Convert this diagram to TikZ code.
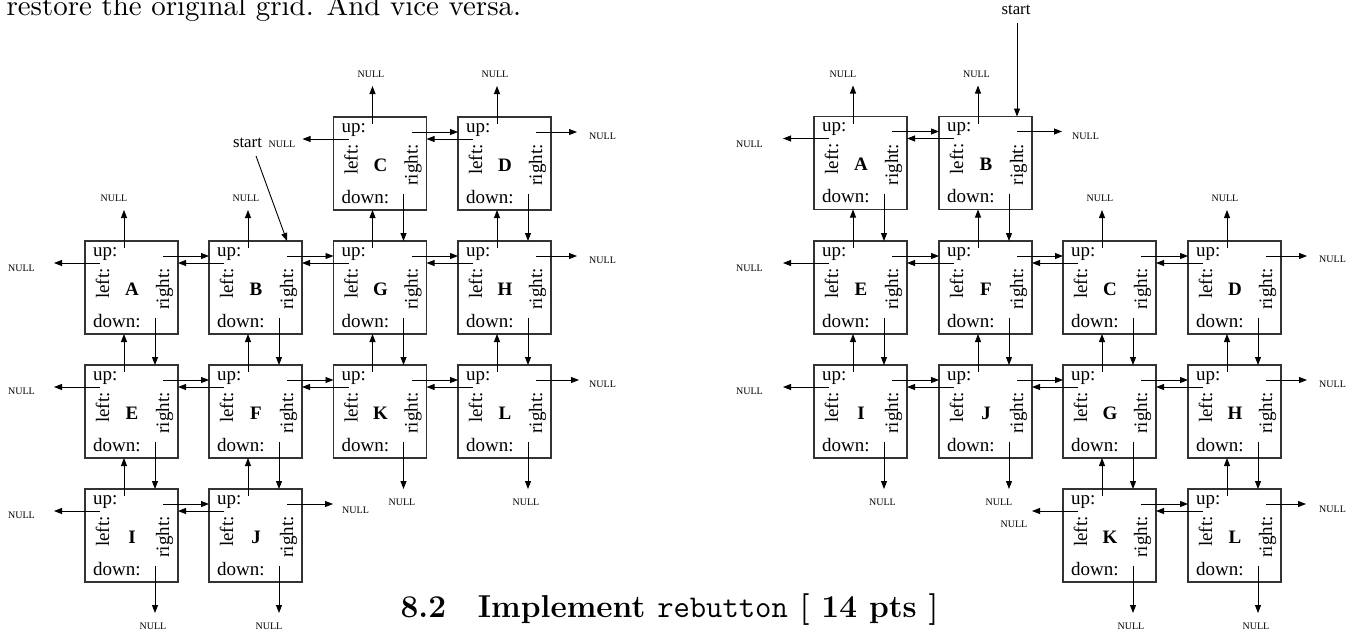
\documentclass[tikz,border=0pt]{standalone}
\usepackage{fontspec}
\newfontfamily\tms{Liberation Serif}
\usetikzlibrary{arrows.meta,calc}
\tikzset{
  boxst/.style={draw=black!80, line width=1.2pt, minimum width=93pt, minimum height=93pt, inner sep=0pt, outer sep=0pt, anchor=north west},
  lbl/.style={font=\tms\fontsize{19}{22}\selectfont, inner sep=0pt},
  ltr/.style={font=\tms\bfseries\fontsize{19}{22}\selectfont, inner sep=0pt, anchor=base},
  nul/.style={font=\tms\fontsize{10}{12}\selectfont, inner sep=0pt},
  arr/.style={-{Triangle[length=8pt,width=6pt]}, line width=0.9pt},
  stl/.style={font=\tms\fontsize{16.8}{20}\selectfont, inner sep=0pt},
}
% box: name, x0, y0, letter
\newcommand\gbox[4]{%
  \node[boxst] (#1) at (#2,#3) {};
  \node[lbl, anchor=base west] (#1-tu) at (#2+8,#3+15) {up:};
  \node[lbl, anchor=base west] (#1-td) at (#2+8,#3+86) {down:};
  \node[lbl, anchor=base, rotate=90] (#1-tl) at (#2+24,#3+42.5) {left:};
  \node[lbl, anchor=base, rotate=90] (#1-tr) at (#2+84,#3+48) {right:};
  \node[ltr] (#1-tn) at (#2+47,#3+54) {#4};
  \coordinate (#1-u) at (#2+39,#3+7);
  \coordinate (#1-d) at (#2+70,#3+77);
  \coordinate (#1-r) at (#2+78,#3+15);
  \coordinate (#1-l) at (#2+15,#3+22);
}
\newcommand\rto[2]{\draw[arr] (#1-r) -- (#1-r -| #2.west);}
\newcommand\lto[2]{\draw[arr] (#1-l) -- (#1-l -| #2.east);}
\newcommand\uto[2]{\draw[arr] (#1-u) -- (#1-u |- #2.south);}
\newcommand\dto[2]{\draw[arr] (#1-d) -- (#1-d |- #2.north);}
\newcommand\unull[2]{\draw[arr] (#1-u) -- ++(0,-38) coordinate (#1-ut);
  \node[nul] (#1-un) at ($(#1-ut)+(#2,-11.5)$) {NULL};}
\newcommand\dnull[2]{\draw[arr] (#1-d) -- ++(0,47) coordinate (#1-dt);
  \node[nul] (#1-dn) at ($(#1-dt)+(#2,13.5)$) {NULL};}
\newcommand\lnull[3]{\draw[arr] (#1-l) -- ++(-46,0) coordinate (#1-lt);
  \node[nul, anchor=east] (#1-ln) at ($(#1-lt)+(#2,#3)$) {NULL};}
\newcommand\rnull[4]{\draw[arr] (#1-r) -- ++(#2,0) coordinate (#1-rt);
  \node[nul, anchor=west] (#1-rn) at ($(#1-rt)+(#3,#4)$) {NULL};}
\begin{document}
\begin{tikzpicture}[x=1pt,y=-1pt]
\useasboundingbox (0,0) rectangle (1355,635);
\clip (0,0) rectangle (1355,635);

% text lines
\node[anchor=base west, scale=2.64, inner sep=0pt] (body) at (6,15)
  {\fontsize{10.95}{13.6}\selectfont restore the original grid. And vice versa.};
\node[anchor=base west, scale=2.64, inner sep=0pt] (title) at (400,617.7)
  {\fontsize{12}{14.4}\selectfont\bfseries 8.2\hspace{1em}Implement {\mdseries\ttfamily rebutton} [ 14 pts ]};

% ---------------- left grid ----------------
\gbox{LC}{333.5}{117}{C}
\gbox{LD}{458}{117}{D}
\gbox{LA}{85}{241}{A}
\gbox{LB}{209}{241}{B}
\gbox{LG}{333.5}{241}{G}
\gbox{LH}{458}{241}{H}
\gbox{LE}{85}{365}{E}
\gbox{LF}{209}{365}{F}
\gbox{LK}{333.5}{365}{K}
\gbox{LL}{458}{365}{L}
\gbox{LI}{85}{489}{I}
\gbox{LJ}{209}{489}{J}

\unull{LC}{-1.5} \lnull{LC}{-7}{5} \rto{LC}{LD} \dto{LC}{LG}
\unull{LD}{-2} \lto{LD}{LC} \rnull{LD}{41}{12}{4.5} \dto{LD}{LH}
\unull{LA}{-10} \lnull{LA}{-19}{5.5} \rto{LA}{LB} \dto{LA}{LE}
\unull{LB}{-2} \lto{LB}{LA} \rto{LB}{LG} \dto{LB}{LF}
\uto{LG}{LC} \lto{LG}{LB} \rto{LG}{LH} \dto{LG}{LK}
\uto{LH}{LD} \lto{LH}{LG} \rnull{LH}{41}{12}{4.5} \dto{LH}{LL}
\uto{LE}{LA} \lnull{LE}{-19}{4.5} \rto{LE}{LF} \dto{LE}{LI}
\uto{LF}{LB} \lto{LF}{LE} \rto{LF}{LK} \dto{LF}{LJ}
\uto{LK}{LG} \lto{LK}{LF} \rto{LK}{LL} \dnull{LK}{-1.5}
\uto{LL}{LH} \lto{LL}{LK} \rnull{LL}{43}{10}{4} \dnull{LL}{-2}
\uto{LI}{LE} \lnull{LI}{-19}{4} \rto{LI}{LJ} \dnull{LI}{-2}
\uto{LJ}{LF} \lto{LJ}{LI} \rnull{LJ}{46}{9}{6} \dnull{LJ}{-10}

\node[stl] (st1) at (247.5,143) {start};
\coordinate (st1a) at (256,156);
\draw[arr] (st1a) -- (LB-r |- LB.north);

% ---------------- right grid ----------------
\gbox{RA}{814}{116.5}{A}
\gbox{RB}{939}{116.5}{B}
\gbox{RE}{814}{241}{E}
\gbox{RF}{939}{241}{F}
\gbox{RC}{1063}{241}{C}
\gbox{RD}{1188}{241}{D}
\gbox{RI}{814}{365}{I}
\gbox{RJ}{939}{365}{J}
\gbox{RG}{1063}{365}{G}
\gbox{RH}{1188}{365}{H}
\gbox{RK}{1063}{489}{K}
\gbox{RL}{1188}{489}{L}

\unull{RA}{-10} \lnull{RA}{-20}{5.5} \rto{RA}{RB} \dto{RA}{RE}
\unull{RB}{-1.5} \lto{RB}{RA} \rnull{RB}{45}{10}{5} \dto{RB}{RF}
\uto{RE}{RA} \lnull{RE}{-20}{5} \rto{RE}{RF} \dto{RE}{RI}
\uto{RF}{RB} \lto{RF}{RE} \rto{RF}{RC} \dto{RF}{RJ}
\unull{RC}{-2} \lto{RC}{RF} \rto{RC}{RD} \dto{RC}{RG}
\unull{RD}{-2} \lto{RD}{RC} \rnull{RD}{41}{12}{3.5} \dto{RD}{RH}
\uto{RI}{RE} \lnull{RI}{-20}{4.5} \rto{RI}{RJ} \dnull{RI}{-1.5}
\uto{RJ}{RF} \lto{RJ}{RI} \rto{RJ}{RG} \dnull{RJ}{-10}
\uto{RG}{RC} \lto{RG}{RJ} \rto{RG}{RH} \dto{RG}{RK}
\uto{RH}{RD} \lto{RH}{RG} \rnull{RH}{41}{12}{4} \dto{RH}{RL}
\uto{RK}{RG} \lnull{RK}{-4.5}{13} \rto{RK}{RL} \dnull{RK}{-2}
\uto{RL}{RH} \lto{RL}{RK} \rnull{RL}{40}{13}{5} \dnull{RL}{-2}

\node[stl] (st2) at (1016,10) {start};
\coordinate (st2a) at (1017,23);
\draw[arr] (st2a) -- (RB-r |- RB.north);
\end{tikzpicture}
\end{document}
